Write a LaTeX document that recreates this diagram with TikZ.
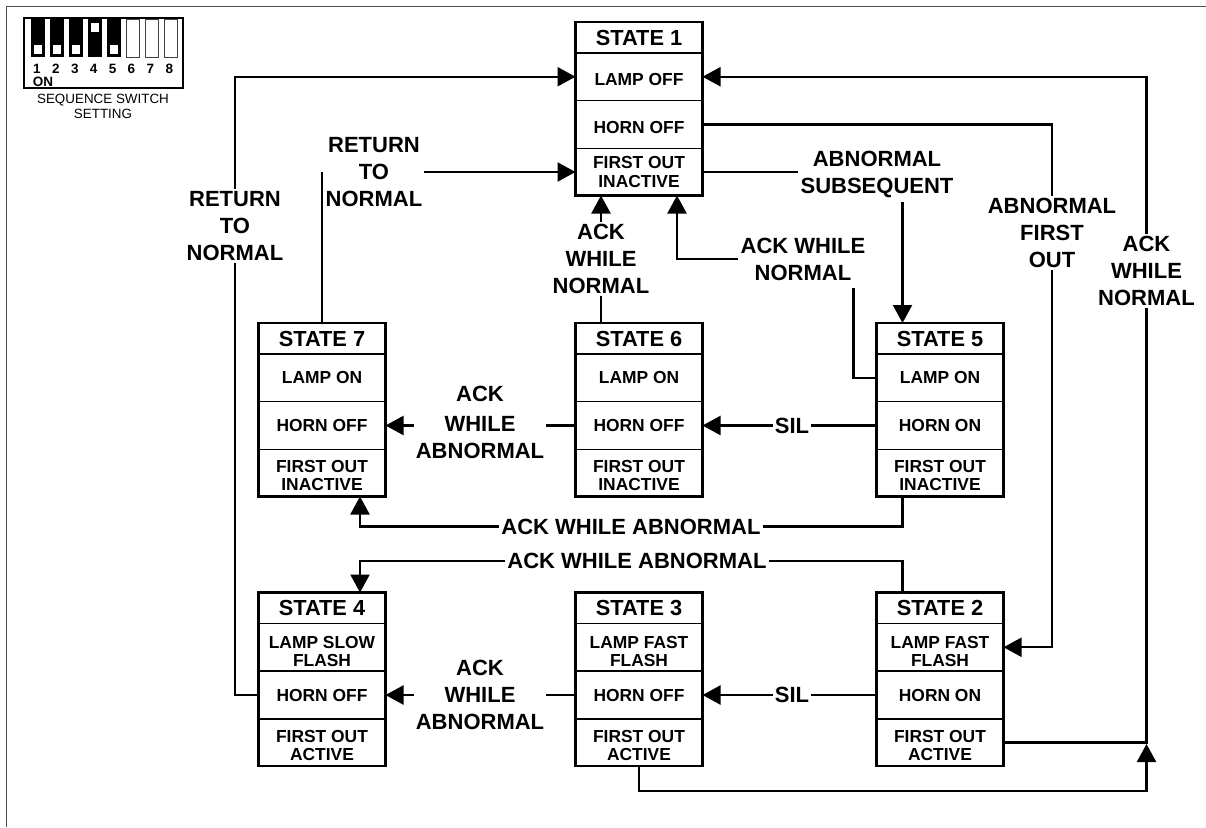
\documentclass[tikz,border=0pt]{standalone}
\usepackage{fontspec}
\setmainfont{Liberation Sans}
\usetikzlibrary{arrows.meta,positioning}
\tikzset{
    statepart/.style={draw,line width=1.3pt,minimum width=127pt,outer sep=0pt,inner sep=0pt,align=center,
        font=\bfseries\fontsize{17.4}{18.3}\selectfont},
    statetitle/.style={draw,line width=1.3pt,minimum width=127pt,minimum height=31pt,outer sep=0pt,inner sep=0pt,
        font=\bfseries\fontsize{21.8}{24}\selectfont},
    stateframe/.style={line width=2.4pt,line join=miter},
    flowlabel/.style={inner sep=2pt,align=center,font=\bfseries\fontsize{22}{27}\selectfont},
    flow/.style={line width=2.2pt},
    flowtip/.style={flow,-{Triangle[length=18pt,width=19pt]}},
    dipnum/.style={inner sep=0pt,font=\bfseries\fontsize{13.5}{14}\selectfont},
    diptext/.style={inner sep=0pt,align=center,font=\fontsize{13.4}{15}\selectfont},
}
\newcommand{\statebox}[7]{
    \node[statetitle,anchor=north] (#1title) at (#2,#3) {STATE #4};
    \node[statepart,minimum height=47.5pt,below=0pt of #1title] (#1lamp) {#5};
    \node[statepart,minimum height=48pt,below=0pt of #1lamp] (#1horn) {#6};
    \node[statepart,minimum height=47pt,below=0pt of #1horn] (#1first) {#7};
    \draw[stateframe] (#1title.north west) rectangle (#1first.south east);
}
\newcommand{\drop}[1]{\rule{0pt}{#1pt}}
\begin{document}
\begin{tikzpicture}[x=1pt,y=-1pt]
    \useasboundingbox (0,0) rectangle (1206,827);
    \draw[line width=1pt,black!70] (6.5,827) -- (6.5,6.5) -- (1206,6.5);

    \draw[line width=1.2pt] (24,18) rectangle (183,88);
    \foreach \i in {1,...,5} {
        \fill ({31+19*(\i-1)},19) rectangle ({45+19*(\i-1)},57);
    }
    \foreach \i in {6,7,8} {
        \draw[line width=0.8pt,black!75] ({31+19*(\i-1)},19.5) rectangle ({44+19*(\i-1)},57);
    }
    \foreach \i in {1,2,3,5} {
        \fill[white] ({34+19*(\i-1)},45) rectangle ({42+19*(\i-1)},54);
    }
    \fill[white] (91,23) rectangle (99,32);
    \foreach \i in {1,...,8} {
        \node[dipnum] (dip\i) at ({37+18.9*(\i-1)},69) {\i};
    }
    \node[dipnum] (dipon) at (43,82) {ON};
    \node[diptext] (dipname) at (103,106.5) {SEQUENCE SWITCH\\SETTING};

    \statebox{sa}{639}{22}{1}{\drop{18.5}LAMP OFF}{\drop{18.5}HORN OFF}{FIRST OUT\\INACTIVE}
    \statebox{sb}{940}{592.5}{2}{\drop{20}LAMP FAST\\FLASH}{HORN ON}{\drop{18.5}FIRST OUT\\ACTIVE}
    \statebox{sc}{639}{592.5}{3}{\drop{20}LAMP FAST\\FLASH}{HORN OFF}{\drop{18.5}FIRST OUT\\ACTIVE}
    \statebox{sd}{322}{592.5}{4}{\drop{20}LAMP SLOW\\FLASH}{HORN OFF}{\drop{18.5}FIRST OUT\\ACTIVE}
    \statebox{se}{940}{323}{5}{LAMP ON}{HORN ON}{\drop{17}FIRST OUT\\INACTIVE}
    \statebox{sf}{639}{323}{6}{LAMP ON}{HORN OFF}{\drop{17}FIRST OUT\\INACTIVE}
    \statebox{sg}{322}{323}{7}{LAMP ON}{HORN OFF}{\drop{17}FIRST OUT\\INACTIVE}

    \node[flowlabel] (rtnout) at (235,226) {RETURN\\TO\\NORMAL};
    \node[flowlabel] (rtnin) at (374,172) {RETURN\\TO\\NORMAL};
    \node[flowlabel] (abnsub) at (877,174) {ABNORMAL\\SUBSEQUENT};
    \node[flowlabel] (abnfirst) at (1052,233) {ABNORMAL\\FIRST\\OUT};
    \node[flowlabel] (ackright) at (1146.5,271) {ACK\\WHILE\\NORMAL};
    \node[flowlabel] (ackmid) at (803,259) {ACK WHILE\\NORMAL};
    \node[flowlabel] (ackup) at (601,259) {ACK\\WHILE\\NORMAL};
    \node[flowlabel] (abnfg) at (480,422) {ACK\\[3pt]WHILE\\ABNORMAL};
    \node[flowlabel] (abncd) at (480,695) {ACK\\WHILE\\ABNORMAL};
    \node[flowlabel] (silef) at (792,425.5) {SIL};
    \node[flowlabel] (silbc) at (792,695) {SIL};
    \node[flowlabel] (abneg) at (631,526.5) {ACK WHILE ABNORMAL};
    \node[flowlabel] (abnbd) at (637,561) {ACK WHILE ABNORMAL};

    \coordinate (rtnend) at (322,172);
    \coordinate (subout) at (902.5,202);
    \coordinate (ackturn) at (853.5,288);
    \coordinate (joint) at (1146.5,744);
    \coordinate (lowturn) at (1146.5,791);
    \coordinate (ackdrop) at (677,259);
    \coordinate (tipdrop) at (360,540);

    \draw[flowtip] (rtnout) |- (salamp.west);
    \draw[flow] (sdhorn.west) -| (rtnout);
    \draw[flow] (sgtitle.north) -- (rtnend);
    \draw[flowtip] (rtnin) -- (safirst.west);
    \draw[flow] (safirst.east) -- (safirst.east -| abnsub.west);
    \draw[flowtip] (subout) -- (subout |- setitle.north);
    \draw[flow] (sahorn.east) -| (abnfirst);
    \draw[flowtip] (abnfirst) |- (sblamp.east);
    \draw[flowtip] (ackright) |- (salamp.east);
    \draw[flow] (sbfirst.east) -| (ackright);
    \draw[flowtip] (scfirst.south) |- (lowturn) -- (joint);
    \draw[flowtip] (ackmid) -| (ackdrop |- safirst.south);
    \draw[flow] (selamp.west) -| (ackturn);
    \draw[flowtip] (ackup) -- (ackup |- safirst.south);
    \draw[flow] (sftitle.north -| ackup) -- (ackup);
    \draw[flow] (sfhorn.west) -- (sfhorn.west -| abnfg.east);
    \draw[flowtip] (sghorn.east -| abnfg.west) -- (sghorn.east);
    \draw[flow] (schorn.west) -- (abncd);
    \draw[flowtip] (abncd) -- (sdhorn.east);
    \draw[flow] (sehorn.west) -- (silef);
    \draw[flowtip] (silef) -- (sfhorn.east);
    \draw[flow] (sbhorn.west) -- (silbc);
    \draw[flowtip] (silbc) -- (schorn.east);
    \draw[flow] (sefirst.south -| subout) |- (abneg);
    \draw[flowtip] (abneg) -| (tipdrop |- sgfirst.south);
    \draw[flow] (sbtitle.north -| subout) |- (abnbd);
    \draw[flowtip] (abnbd) -| (tipdrop |- sdtitle.north);
\end{tikzpicture}
\end{document}
